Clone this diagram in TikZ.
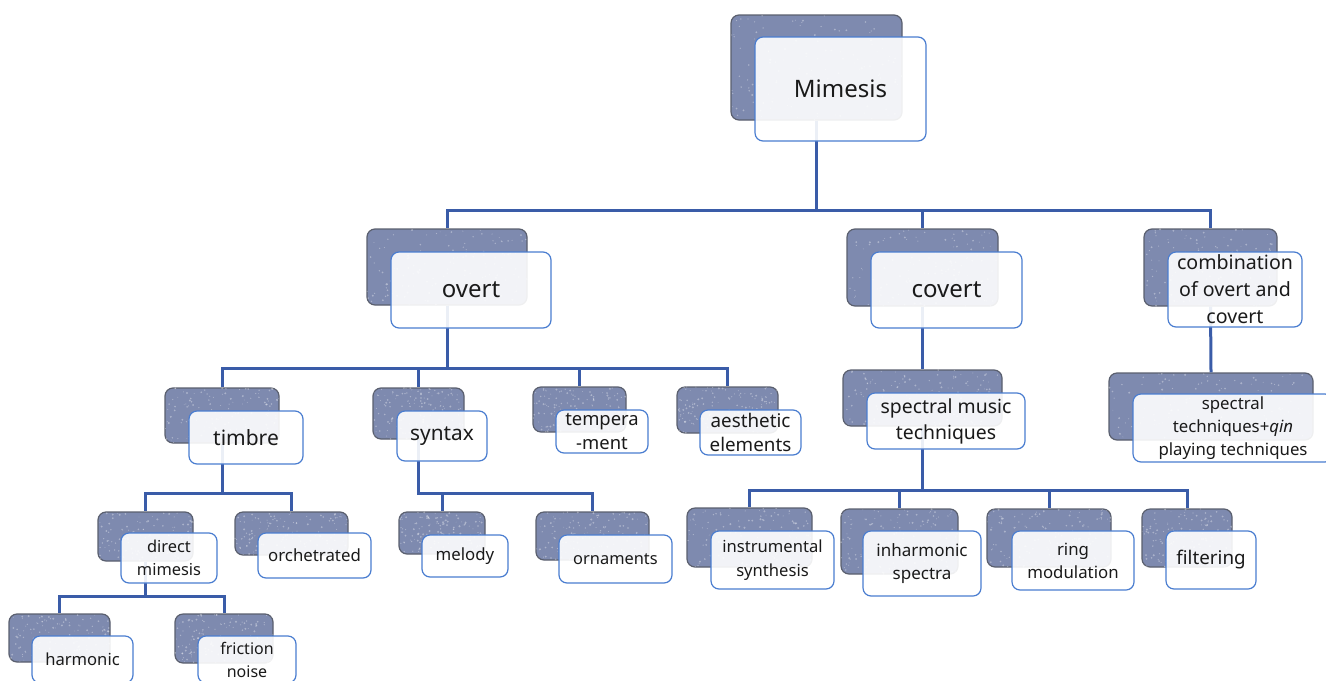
\documentclass[tikz,border=0pt]{standalone}
\usepackage{fontspec}
\setmainfont{Noto Sans}
\definecolor{backfill}{HTML}{7E8AAF}
\definecolor{backdraw}{HTML}{5A5F6E}
\definecolor{frontdraw}{HTML}{4A7DD0}
\definecolor{linkcol}{HTML}{3A5CA8}
\definecolor{txt}{HTML}{1A1A1A}
\tikzset{
  backbox/.style={draw=backdraw, line width=0.6pt, fill=backfill, rounded corners=4pt, inner sep=0pt},
  frontbox/.style={draw=frontdraw, line width=0.6pt, fill=white, fill opacity=0.9, text opacity=1,
    rounded corners=4pt, inner sep=0pt, align=center, text=txt},
  link/.style={draw=linkcol, line width=1.5pt},
  speck/.style={fill=white, opacity=0.35},
}
\newcommand\bk[5]{%
  \node[backbox, minimum width={(#4-#2)*0.5pt}, minimum height={(#5-#3)*0.5pt}] (#1) at ({(#2+#4)/2},{(#3+#5)/2}) {};
  \begin{scope}
    \clip[rounded corners=4pt] (#1.south west) rectangle (#1.north east);
    \foreach \k in {1,...,140}{
      \fill[speck] ({#2+rnd*(#4-#2)},{#3+rnd*(#5-#3)}) circle ({(0.2+0.35*rnd)*1pt});
    }
  \end{scope}}
\newcommand\fr[8]{%
  \node[frontbox, minimum width={(#4-#2)*0.5pt}, minimum height={(#5-#3)*0.5pt},
    font=\fontsize{#6}{#7}\selectfont] (#1) at ({(#2+#4)/2},{(#3+#5)/2}) {#8};}
\begin{document}
\begin{tikzpicture}[x=0.5pt, y=-0.5pt]
\pgfmathsetseed{7}
\useasboundingbox (0,0) rectangle (1326,680);
% back boxes
\bk{mimB}{731}{15}{902}{120}
\bk{ovB}{367}{229}{527}{305}
\bk{coB}{847}{229}{998}{306}
\bk{cbB}{1144}{229}{1277}{306}
\bk{tiB}{165}{388}{279}{443}
\bk{syB}{373}{388}{464}{439}
\bk{teB}{533}{387}{626}{432}
\bk{aeB}{677}{387}{778}{433}
\bk{smB}{843}{370}{1002}{426}
\bk{sqB}{1109}{373}{1313}{440}
\bk{dmB}{98}{512}{193}{561}
\bk{orB}{235}{512}{348}{555}
\bk{meB}{399}{512}{485}{554}
\bk{onB}{536}{512}{649}{560}
\bk{isB}{687}{508}{812}{567}
\bk{ihB}{841}{509}{958}{574}
\bk{rmB}{987}{509}{1111}{567}
\bk{fiB}{1142}{509}{1232}{567}
\bk{haB}{9}{614}{110}{662}
\bk{fnB}{175}{614}{273}{663}
% buses
\coordinate (bus0) at (0,210);
\coordinate (bus1) at (0,368);
\coordinate (bus2) at (0,490);
\coordinate (bus3) at (0,493);
\coordinate (bus4) at (0,596);
% connectors
\foreach \c in {ovB,coB,cbB}{\draw[link] (mimB.south) -- (mimB.south |- bus0) -| (\c.north);}
\foreach \c in {tiB,syB,teB,aeB}{\draw[link] (ovB.south) -- (ovB.south |- bus1) -| (\c.north);}
\draw[link] (coB.south) -- (smB.north);
\draw[link] (cbB.south) -- (sqB.north);
\foreach \c in {isB,ihB,rmB,fiB}{\draw[link] (smB.south) -- (smB.south |- bus2) -| (\c.north);}
\foreach \c in {dmB,orB}{\draw[link] (tiB.south) -- (tiB.south |- bus3) -| (\c.north);}
\foreach \c in {meB,onB}{\draw[link] (syB.south) -- (syB.south |- bus3) -| (\c.north);}
\foreach \c in {haB,fnB}{\draw[link] (dmB.south) -- (dmB.south |- bus4) -| (\c.north);}
% front boxes
\fr{mim}{755}{37}{926}{141}{12pt}{15pt}{Mimesis}
\fr{ov}{391}{252}{551}{328}{12pt}{15pt}{overt}
\fr{co}{871}{252}{1022}{328}{12pt}{15pt}{covert}
\fr{cb}{1168}{252}{1302}{327}{9.8pt}{13.5pt}{combination\\of overt and\\covert}
\fr{ti}{189}{411}{303}{464}{10.5pt}{13pt}{timbre}
\fr{sy}{397}{411}{487}{461}{10.4pt}{13pt}{syntax}
\fr{te}{556}{410}{648}{453}{9.2pt}{12pt}{tempera\\-ment}
\fr{ae}{700}{410}{801}{455}{9.4pt}{12.3pt}{aesthetic\\elements}
\fr{sm}{867}{393}{1025}{449}{9.7pt}{13pt}{spectral music\\techniques}
\fr{sq}{1133}{394}{1333}{462}{8.4pt}{11.5pt}{spectral\\techniques+\textit{qin}\\playing techniques}
\fr{dm}{121}{533}{217}{583}{8.2pt}{11.5pt}{direct\\mimesis}
\fr{or}{258}{533}{371}{578}{8.4pt}{11.5pt}{orchetrated}
\fr{me}{422}{535}{508}{577}{8.4pt}{11.5pt}{melody}
\fr{on}{559}{535}{672}{583}{8.2pt}{11.5pt}{ornaments}
\fr{is}{711}{531}{834}{589}{8.3pt}{12pt}{instrumental\\synthesis}
\fr{ih}{863}{531}{981}{596}{8.5pt}{11.7pt}{inharmonic\\spectra}
\fr{rm}{1012}{531}{1134}{590}{8.4pt}{11.5pt}{ring\\modulation}
\fr{fi}{1166}{531}{1256}{589}{9.4pt}{12pt}{filtering}
\fr{ha}{32}{636}{133}{683}{8.3pt}{11.5pt}{harmonic}
\fr{fn}{198}{636}{296}{683}{8pt}{11.5pt}{friction\\noise}
\end{tikzpicture}
\end{document}
